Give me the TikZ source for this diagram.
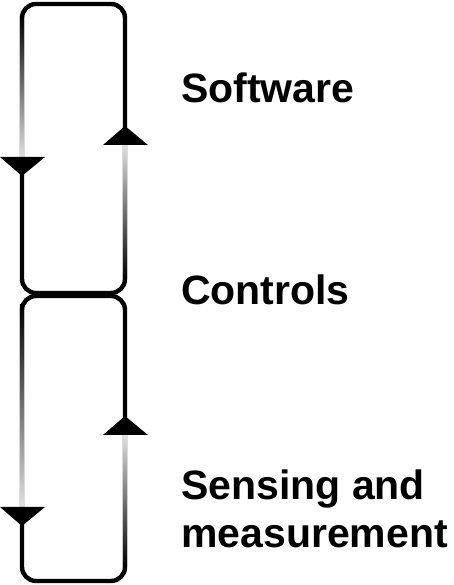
\documentclass[tikz,border=0pt]{standalone}
\usepackage{fontspec}
\setmainfont{Liberation Sans}
\begin{document}
\begin{tikzpicture}[x=1pt,y=1pt,
  loopline/.style={line width=4.4pt, rounded corners=14pt},
  fadedown/.style={top color=black, bottom color=black!12},
  fadeup/.style={top color=black!12, bottom color=black},
  label/.style={anchor=base west, inner sep=0pt, font=\fontsize{41}{48}\selectfont\bfseries, align=left}]
\useasboundingbox (0,0) rectangle (454,585);
% loops
\draw[loopline] (22,581) rectangle (125,292);
\draw[loopline] (22,289) rectangle (125,4);
% gradient segments
\shade[fadedown] (19.8,428) rectangle (24.2,569);
\shade[fadeup] (122.8,306) rectangle (127.2,440);
\shade[fadedown] (19.8,78) rectangle (24.2,280);
\shade[fadeup] (122.8,18) rectangle (127.2,150);
% arrowheads
\fill (0,428) -- (45,428) -- (22,409) -- cycle;
\fill (103,440) -- (148,440) -- (125,459) -- cycle;
\fill (0,78) -- (45,78) -- (22,59) -- cycle;
\fill (103,150) -- (148,150) -- (125,169) -- cycle;
% labels
\node[label] (sw) at (181,482) {Software};
\node[label] (ct) at (181,280) {Controls};
\node[label] (sm) at (181,37) {Sensing and\\measurement};
\end{tikzpicture}
\end{document}
